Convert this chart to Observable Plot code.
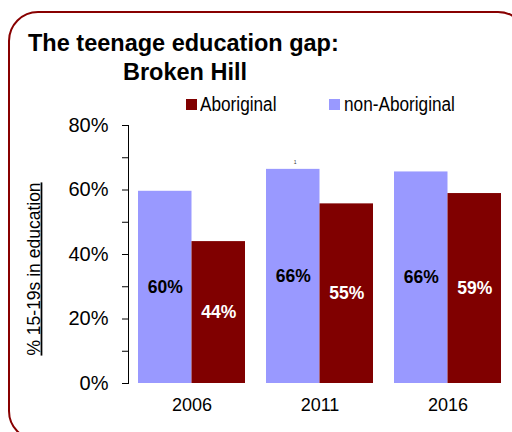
<!DOCTYPE html>
<html>
<head>
<meta charset="utf-8">
<script src="https://cdn.jsdelivr.net/npm/d3@7"></script>
<script src="https://cdn.jsdelivr.net/npm/@observablehq/plot@0.6"></script>
<style>
html, body { margin: 0; padding: 0; background: #fff; overflow: hidden; }
#page { position: relative; width: 512px; height: 432px; overflow: hidden; font-family: "Liberation Sans", Arial, sans-serif; color: #000; }
#box { position: absolute; left: 8px; top: 11px; width: 520px; height: 430px; border: 2.5px solid #880000; border-radius: 30px; box-sizing: border-box; }
.title { position: absolute; font-weight: bold; font-size: 23.5px; line-height: 1; white-space: nowrap; }
.leg { position: absolute; top: 93.5px; font-size: 20px; line-height: 1; white-space: nowrap; transform: scaleX(0.86); transform-origin: left top; }
.sw { position: absolute; width: 11px; height: 11px; top: 99px; }
#chart { position: absolute; left: 0; top: 100px; }
</style>
</head>
<body>
<div id="page">
  <div id="box"></div>
  <div class="title" style="left:28px; top:32px;">The teenage education gap:</div>
  <div class="title" style="left:123px; top:61px;">Broken Hill</div>
  <div id="legend"></div>
  <div id="chart"></div>
</div>
<script>
const years = ["2006", "2011", "2016"];
const nonAboriginal = [59.6, 66.4, 65.6];
const aboriginal = [44.0, 55.7, 58.9];
const nonAboriginalLabels = ["60%", "66%", "66%"];
const aboriginalLabels = ["44%", "55%", "59%"];
const series = ["Aboriginal", "non-Aboriginal"];
const seriesColors = ["#800000", "#9999ff"];
const yTicks = [0, 10, 20, 30, 40, 50, 60, 70, 80];
const yLabel = "% 15-19s in education";
const titleLines = ["The teenage education gap:", "Broken Hill"];
const annotations = [{year: "2011", value: 66.4, text: "1"}];

// legend (HTML)
const legendPos = [{sw: 186, tx: 200}, {sw: 329, tx: 344}];
const legend = document.getElementById("legend");
series.forEach((s, i) => {
  const sw = document.createElement("div");
  sw.className = "sw";
  sw.style.left = legendPos[i].sw + "px";
  sw.style.background = seriesColors[i];
  legend.appendChild(sw);
  const t = document.createElement("div");
  t.className = "leg";
  t.style.left = legendPos[i].tx + "px";
  t.textContent = s;
  legend.appendChild(t);
});

const rowsNon = years.map((y, i) => ({year: y, value: nonAboriginal[i], label: nonAboriginalLabels[i]}));
const rowsAb = years.map((y, i) => ({year: y, value: aboriginal[i], label: aboriginalLabels[i]}));

const half = 53.5;
const q = 26.75;

const chart = Plot.plot({
  width: 512,
  height: 332,
  marginTop: 25,
  marginBottom: 49,
  marginLeft: 128,
  marginRight: 0,
  style: {background: "transparent", fontFamily: "Liberation Sans, Arial, sans-serif", color: "#000", overflow: "visible"},
  x: {domain: years, paddingInner: 0.164, paddingOuter: 0.082, axis: null},
  y: {domain: [0, 80], axis: null},
  marks: [
    Plot.barY(rowsNon, {x: "year", y: "value", fill: seriesColors[1], insetRight: half, insetLeft: 0}),
    Plot.barY(rowsAb, {x: "year", y: "value", fill: seriesColors[0], insetLeft: half, insetRight: 0}),
    Plot.text(rowsNon, {x: "year", y: d => d.value / 2, text: "label", dx: -q, fill: "#000", fontWeight: "bold", fontSize: 17.5}),
    Plot.text(rowsAb, {x: "year", y: d => d.value / 2, text: "label", dx: q, fill: "#fff", fontWeight: "bold", fontSize: 17.5}),
    Plot.text(annotations, {x: "year", y: "value", text: "text", dx: -q + 2, dy: -7, fontSize: 5, fill: "#333"}),
    Plot.frame({anchor: "left", stroke: "#000"}),
    Plot.axisY(yTicks, {tickSize: 6, tickPadding: 14, fontSize: 20, label: null, stroke: "#000",
      tickFormat: d => d % 20 === 0 ? d + "%" : ""}),
    Plot.axisX({tickSize: 0, tickPadding: 15, fontSize: 18, label: null}),
    Plot.text([yLabel], {frameAnchor: "left", textAnchor: "middle", rotate: -90, dx: -94.5, dy: 14.5, fontSize: 17.5, fill: "#000"})
  ]
});

d3.select(chart).selectAll("text").filter(function() { return this.textContent === yLabel; })
  .attr("text-decoration", "underline");

document.getElementById("chart").appendChild(chart);
</script>
</body>
</html>
